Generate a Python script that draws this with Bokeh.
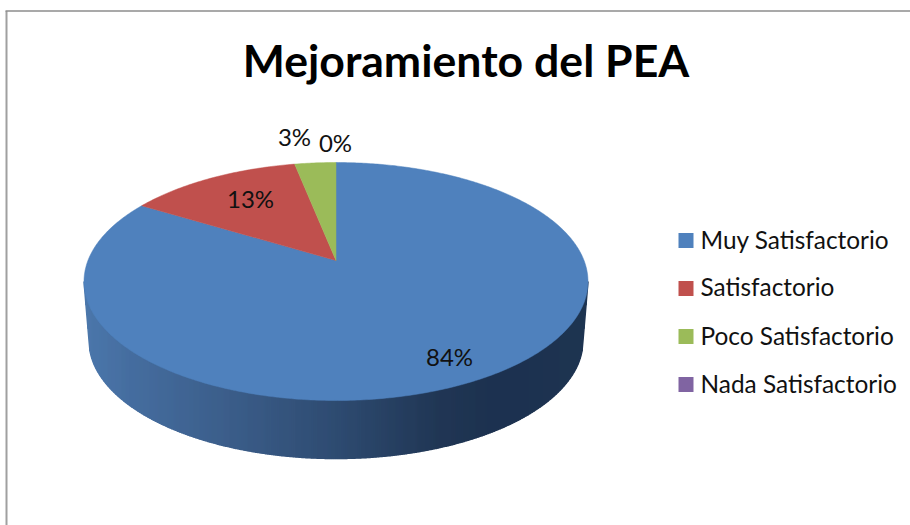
import numpy as np
from bokeh.plotting import figure
from bokeh.models import Range1d
from bokeh.core.properties import value
from bokeh.embed import file_html
from bokeh.resources import INLINE

# data
title = "Mejoramiento del PEA"
categories = ["Muy Satisfactorio", "Satisfactorio", "Poco Satisfactorio", "Nada Satisfactorio"]
percents = [84, 13, 3, 0]
colors = ["#4f81bd", "#c0504d", "#9bbb59", "#8064a2"]

# layout (page pixels)
OX, OY = 0, 0
W, H = 910, 525
CX, CY, RX, RY = 335.5, 281.0, 252.0, 119.0
AX, AY = 335.5, 260.0
ASPECT = 2.25
LCY, LRX, LRY = 340.0, 247.0, 118.0
label_pos = [(449, 356), (250, 198), (294, 136), (335, 142)]
legend_y = [240, 288, 336, 384]
legend_text_y = [239, 286, 335, 383]
FONT = "Lato"

p = figure(width=W, height=H, output_backend="svg", toolbar_location=None,
           x_range=Range1d(OX, OX + W), y_range=Range1d(OY + H, OY),
           x_axis_location=None, y_axis_location=None, min_border=0,
           outline_line_color=None, background_fill_color="white", border_fill_color="white")
p.grid.visible = False

# chart frame
p.line([6, 6], [10.5, OY + H], line_color="#a0a0a0", line_width=2)
p.line([5, OX + W], [10.5, 10.5], line_color="#8c8c8c", line_width=1.5)


def rim(theta):
    dx, dy = ASPECT * np.sin(theta), -np.cos(theta)
    ex, ey = AX - CX, AY - CY
    a = (dx / RX) ** 2 + (dy / RY) ** 2
    b = 2 * (ex * dx / RX ** 2 + ey * dy / RY ** 2)
    c = (ex / RX) ** 2 + (ey / RY) ** 2 - 1
    t = (-b + np.sqrt(b * b - 4 * a * c)) / (2 * a)
    return AX + t * dx, AY + t * dy


# side wall: vertical shaded strips under the front rim
stops_x = [84, 130, 230, 336, 440, 500, 588]
stops_r = [76, 70, 60, 47, 33, 29, 31]
stops_g = [120, 110, 94, 76, 55, 50, 53]
stops_b = [172, 160, 138, 114, 85, 80, 82]


def top_y(x):
    return CY + RY * np.sqrt(np.clip(1 - ((x - CX) / RX) ** 2, 0, 1))


def bot_y(x):
    inside = np.abs(x - CX) <= LRX
    low = LCY + LRY * np.sqrt(np.clip(1 - ((x - CX) / LRX) ** 2, 0, 1))
    edge = CY + (LCY - CY) * (RX - np.abs(x - CX)) / (RX - LRX)
    return np.where(inside, low, edge)


edges = np.linspace(CX - RX, CX + RX, 253)
xs, ys, cs = [], [], []
for i in range(len(edges) - 1):
    strip = np.linspace(edges[i], edges[i + 1], 3)
    xs.append(list(strip) + list(strip[::-1]))
    ys.append(list(top_y(strip)) + list(bot_y(strip[::-1])))
    mid = strip[1]
    cs.append("#%02x%02x%02x" % (int(np.interp(mid, stops_x, stops_r)),
                                 int(np.interp(mid, stops_x, stops_g)),
                                 int(np.interp(mid, stops_x, stops_b))))
p.patches(xs, ys, fill_color=cs, line_color=cs, line_width=1.5)

# top face slices
start = 0.0
total = sum(percents)
for v, c in zip(percents, colors):
    if v > 0:
        end = start + v / total * 2 * np.pi
        th = np.linspace(start, end, max(int(v * 6), 12))
        rx_, ry_ = rim(th)
        p.patch([AX] + list(rx_), [AY] + list(ry_), fill_color=c, line_color=c, line_width=0.5)
        start = end

# data labels
for v, (lx, ly) in zip(percents, label_pos):
    p.text([lx], [ly], text=[f"{v}%"], text_font=value(FONT), text_font_size="24px",
           text_color="#111111", text_align="center", text_baseline="middle")

# title
p.text([465.5], [59], text=[title], text_font=value(FONT), text_font_size="44.6px",
       text_font_style="bold", text_color="#000000", text_align="center", text_baseline="middle")

# legend
for c, n, y, ty in zip(colors, categories, legend_y, legend_text_y):
    p.quad(left=[678], right=[693], top=[y - 7.5], bottom=[y + 7.5], fill_color=c, line_color=None)
    p.text([700], [ty], text=[n], text_font=value(FONT), text_font_size="24.4px",
           text_color="#111111", text_align="left", text_baseline="middle")

open("out.html", "w").write(file_html(p, INLINE))
